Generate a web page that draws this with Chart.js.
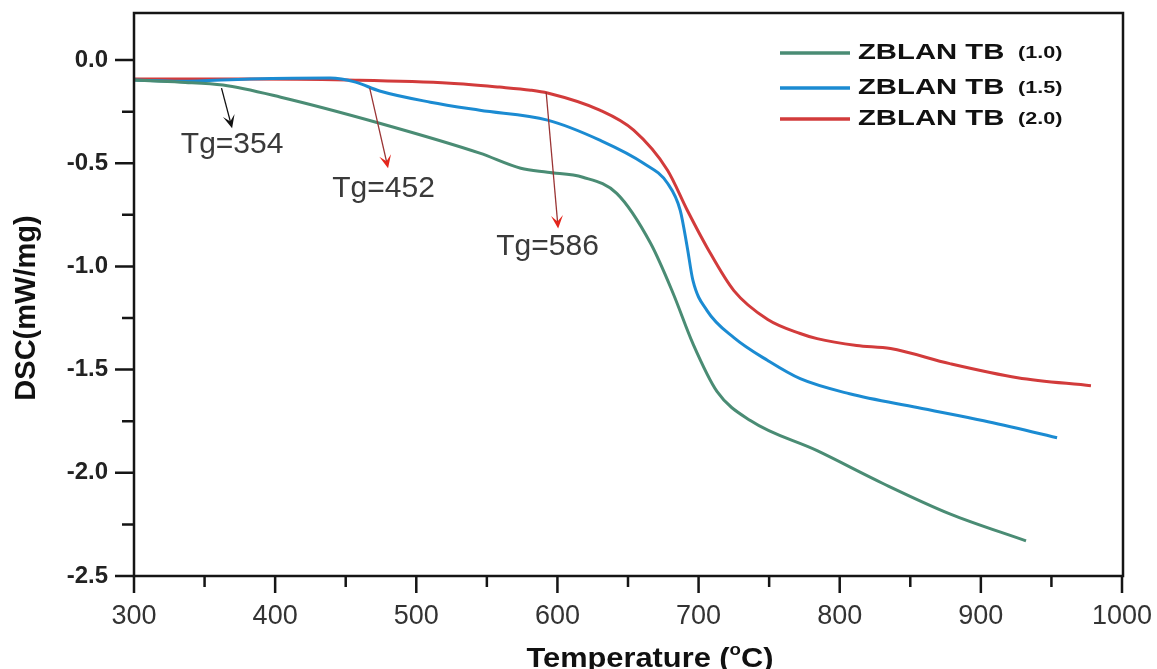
<!DOCTYPE html>
<html>
<head>
<meta charset="utf-8">
<title>DSC curves - ZBLAN TB</title>
<script src="https://cdn.jsdelivr.net/npm/chart.js@4.4.0/dist/chart.umd.min.js"></script>
<style>
    html, body { margin: 0; padding: 0; background: #ffffff; }
    #wrap { width: 1157px; height: 669px; }
</style>
</head>
<body>
<div id="wrap"><canvas id="dscChart" width="1157" height="669"></canvas></div>
<script>
// DSC curves of ZBLAN TB glasses
const seriesNames = ['ZBLAN TB (1.0)', 'ZBLAN TB (1.5)', 'ZBLAN TB (2.0)'];
const seriesColors = ['#4a8c74', '#1b8bd2', '#d23b3b'];

const tb10Temp = [300, 333, 363, 404, 474, 545, 574, 593, 618, 642, 666, 682, 696, 713, 737, 784, 831, 878, 932];
const tb10Dsc = [-0.097, -0.107, -0.121, -0.180, -0.306, -0.451, -0.524, -0.544, -0.568, -0.646, -0.888, -1.131, -1.374, -1.605, -1.748, -1.893, -2.053, -2.199, -2.330];

const tb15Temp = [300, 333, 382, 439, 457, 474, 510, 545, 593, 630, 661, 678, 687, 692, 696, 706, 725, 749, 772, 807, 855, 902, 954];
const tb15Dsc = [-0.097, -0.103, -0.092, -0.087, -0.107, -0.150, -0.204, -0.243, -0.291, -0.388, -0.500, -0.597, -0.728, -0.908, -1.068, -1.214, -1.345, -1.456, -1.544, -1.617, -1.684, -1.748, -1.830];

const tb20Temp = [300, 382, 451, 524, 559, 581, 593, 630, 654, 678, 692, 706, 725, 749, 772, 784, 812, 836, 878, 926, 978];
const tb20Dsc = [-0.092, -0.092, -0.097, -0.112, -0.131, -0.146, -0.160, -0.243, -0.340, -0.534, -0.728, -0.908, -1.117, -1.257, -1.325, -1.350, -1.383, -1.398, -1.471, -1.539, -1.578];

const seriesTemps = [tb10Temp, tb15Temp, tb20Temp];
const seriesDsc = [tb10Dsc, tb15Dsc, tb20Dsc];

const xMajorTicks = [300, 400, 500, 600, 700, 800, 900, 1000];
const xMinorTicks = [350, 450, 550, 650, 750, 850, 950];
const yMajorTicks = [0, -0.5, -1.0, -1.5, -2.0, -2.5];
const yMinorTicks = [-0.25, -0.75, -1.25, -1.75, -2.25];

// Tg markers: arrow start, arrow tip and label spot, in data units
const tgLabels = ['Tg=354', 'Tg=452', 'Tg=586'];
const tgArrowFrom = [[362, -0.136], [467, -0.136], [592, -0.155]];
const tgArrowTo = [[369.5, -0.33], [480, -0.524], [600.5, -0.816]];
const tgTextAt = [[369.5, -0.451], [476.8, -0.665], [593, -0.947]];

const FONT = "'Liberation Sans', Arial, Helvetica, sans-serif";

function drawArrow(ctx, x1, y1, x2, y2, shaftColor, headColor) {
    const a = Math.atan2(y2 - y1, x2 - x1);
    ctx.strokeStyle = shaftColor;
    ctx.lineWidth = 1.3;
    ctx.beginPath();
    ctx.moveTo(x1, y1);
    ctx.lineTo(x2 - 6 * Math.cos(a), y2 - 6 * Math.sin(a));
    ctx.stroke();

    // chevron shaped head
    const len = 13, half = 6, notch = 7;
    const bx = x2 - len * Math.cos(a), by = y2 - len * Math.sin(a);
    const nx = -Math.sin(a), ny = Math.cos(a);
    ctx.fillStyle = headColor;
    ctx.beginPath();
    ctx.moveTo(x2, y2);
    ctx.lineTo(bx + nx * half, by + ny * half);
    ctx.lineTo(x2 - notch * Math.cos(a), y2 - notch * Math.sin(a));
    ctx.lineTo(bx - nx * half, by - ny * half);
    ctx.closePath();
    ctx.fill();
}

const decorPlugin = {
    id: 'decor',
    afterDraw(chart) {
        const ctx = chart.ctx;
        const xs = chart.scales.x, ys = chart.scales.y;
        const area = chart.chartArea;
        ctx.save();

        // frame
        ctx.strokeStyle = '#151515';
        ctx.lineWidth = 2.5;
        ctx.strokeRect(area.left, area.top, area.right - area.left + 1, area.bottom - area.top);

        // tick marks
        ctx.beginPath();
        xMajorTicks.forEach(v => {
            const px = xs.getPixelForValue(v);
            ctx.moveTo(px, area.bottom); ctx.lineTo(px, area.bottom + 17);
        });
        xMinorTicks.forEach(v => {
            const px = xs.getPixelForValue(v);
            ctx.moveTo(px, area.bottom); ctx.lineTo(px, area.bottom + 11);
        });
        yMajorTicks.forEach(v => {
            const py = ys.getPixelForValue(v);
            ctx.moveTo(area.left, py); ctx.lineTo(area.left - 19, py);
        });
        yMinorTicks.forEach(v => {
            const py = ys.getPixelForValue(v);
            ctx.moveTo(area.left, py); ctx.lineTo(area.left - 12, py);
        });
        ctx.stroke();

        // Tg arrows and labels
        tgLabels.forEach((label, i) => {
            const shaft = i === 0 ? '#111111' : '#9a3434';
            const head = i === 0 ? '#111111' : '#e4261c';
            drawArrow(ctx,
                xs.getPixelForValue(tgArrowFrom[i][0]), ys.getPixelForValue(tgArrowFrom[i][1]),
                xs.getPixelForValue(tgArrowTo[i][0]), ys.getPixelForValue(tgArrowTo[i][1]),
                shaft, head);
            ctx.fillStyle = '#3a3a3a';
            ctx.font = `30px ${FONT}`;
            ctx.textAlign = 'center';
            ctx.textBaseline = 'alphabetic';
            ctx.fillText(label, xs.getPixelForValue(tgTextAt[i][0]), ys.getPixelForValue(tgTextAt[i][1]));
        });

        // legend (text in the figure is drawn wide)
        const rowY = [53, 88, 119];
        chart.data.datasets.forEach((ds, i) => {
            const y = rowY[i];
            ctx.strokeStyle = ds.borderColor;
            ctx.lineWidth = 3.5;
            ctx.beginPath();
            ctx.moveTo(780, y); ctx.lineTo(850, y);
            ctx.stroke();

            const cut = ds.label.indexOf(' (');
            const main = ds.label.slice(0, cut);
            const tail = ds.label.slice(cut + 1);
            ctx.fillStyle = '#111111';
            ctx.textAlign = 'left';
            ctx.textBaseline = 'middle';
            ctx.save();
            ctx.translate(858, y);
            ctx.scale(1.33, 1);
            ctx.font = `bold 22px ${FONT}`;
            ctx.fillText(main, 0, 0);
            ctx.restore();
            ctx.save();
            ctx.translate(1018, y + 1);
            ctx.scale(1.35, 1);
            ctx.font = `bold 16px ${FONT}`;
            ctx.fillText(tail, 0, 0);
            ctx.restore();
        });

        // axis titles
        ctx.fillStyle = '#111111';
        ctx.save();
        ctx.translate(27, 308);
        ctx.rotate(-Math.PI / 2);
        ctx.textAlign = 'center';
        ctx.textBaseline = 'middle';
        ctx.font = `bold 29px ${FONT}`;
        ctx.fillText('DSC(mW/mg)', 0, 0);
        ctx.restore();

        ctx.save();
        ctx.translate(650, 667);
        ctx.scale(1.1, 1);
        ctx.textBaseline = 'alphabetic';
        ctx.textAlign = 'left';
        const bigFont = `bold 28px ${FONT}`, smallFont = `bold 17px ${FONT}`;
        ctx.font = bigFont;
        const p1 = 'Temperature (', p3 = 'C)';
        const w1 = ctx.measureText(p1).width, w3 = ctx.measureText(p3).width;
        ctx.font = smallFont;
        const w2 = ctx.measureText('o').width;
        let x = -(w1 + w2 + w3) / 2;
        ctx.font = bigFont;
        ctx.fillText(p1, x, 0);
        x += w1;
        ctx.font = smallFont;
        ctx.fillText('o', x, -12);
        x += w2;
        ctx.font = bigFont;
        ctx.fillText(p3, x, 0);
        ctx.restore();

        ctx.restore();
    }
};

const ctx = document.getElementById('dscChart');
new Chart(ctx, {
    type: 'line',
    data: {
        datasets: seriesNames.map((name, i) => ({
            label: name,
            data: seriesTemps[i].map((t, j) => ({ x: t, y: seriesDsc[i][j] })),
            borderColor: seriesColors[i],
            backgroundColor: seriesColors[i],
            borderWidth: 3,
            pointRadius: 0,
            fill: false,
            cubicInterpolationMode: 'monotone'
        }))
    },
    options: {
        responsive: false,
        animation: false,
        layout: { padding: { top: 13, right: 35, left: 0, bottom: 0 } },
        plugins: {
            legend: { display: false },
            tooltip: { enabled: false }
        },
        scales: {
            x: {
                type: 'linear',
                min: 300,
                max: 1000,
                grid: { display: false, drawTicks: false },
                border: { display: false },
                afterBuildTicks: s => { s.ticks = xMajorTicks.map(v => ({ value: v })); },
                afterFit: s => {
                    s.height = 93;
                    s.paddingLeft = 0;
                    s.paddingRight = 0;
                },
                ticks: {
                    padding: 24,
                    autoSkip: false,
                    maxRotation: 0,
                    color: '#333333',
                    font: { family: FONT, size: 27 },
                    callback: v => String(v)
                }
            },
            y: {
                type: 'linear',
                min: -2.5,
                max: 0.228,
                grid: { display: false, drawTicks: false },
                border: { display: false },
                afterBuildTicks: s => { s.ticks = yMajorTicks.map(v => ({ value: v })); },
                afterFit: s => {
                    s.width = 134;
                    s.paddingTop = 0;
                    s.paddingBottom = 0;
                },
                ticks: {
                    padding: 26,
                    autoSkip: false,
                    color: '#222222',
                    font: { family: FONT, size: 24, weight: 'bold' },
                    callback: v => v.toFixed(1)
                }
            }
        }
    },
    plugins: [decorPlugin]
});
</script>
</body>
</html>
